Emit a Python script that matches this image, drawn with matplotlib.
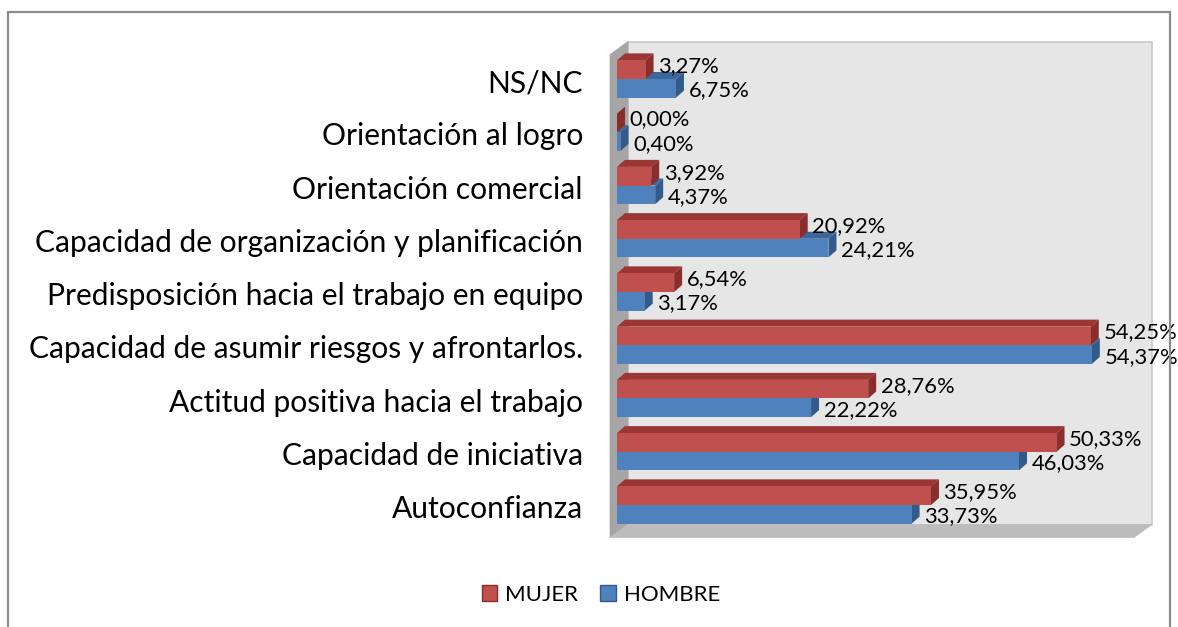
import matplotlib.pyplot as plt
from matplotlib.patches import Polygon, Rectangle, Patch
from matplotlib.transforms import offset_copy
import numpy as np

categorias = [
    "Autoconfianza",
    "Capacidad de iniciativa",
    "Actitud positiva hacia el trabajo",
    "Capacidad de asumir riesgos y afrontarlos.",
    "Predisposición hacia el trabajo en equipo",
    "Capacidad de organización y planificación",
    "Orientación comercial",
    "Orientación al logro",
    "NS/NC",
]
mujer = [35.95, 50.33, 28.76, 54.25, 6.54, 20.92, 3.92, 0.00, 3.27]
hombre = [33.73, 46.03, 22.22, 54.37, 3.17, 24.21, 4.37, 0.40, 6.75]

rojo = dict(front="#c0504d", top="#9a3633", side="#8a2e2b")
azul = dict(front="#4f81bd", top="#3b679c", side="#325a8a")

plt.rcParams['font.family'] = ['Lato', 'DejaVu Sans']

W, H = 1178, 627
fig = plt.figure(figsize=(W / 100, H / 100), dpi=100)

# front plane of the bars, in pixels
L, R, T, B = 617, 1141, 50, 533
ax = fig.add_axes([L / W, 1 - B / H, (R - L) / W, (B - T) / H])
ylo, yhi = -0.526, 8.545
xlo, xhi = 0, 60
ax.set_xlim(xlo, xhi)
ax.set_ylim(ylo, yhi)
ax.axis('off')

px_x = (R - L) / (xhi - xlo)     # pixels per percent
px_y = (B - T) / (yhi - ylo)     # pixels per category
bdx, bdy = 8 / px_x, 7 / px_y    # bar depth in data units

# walls: front edge shifted (-7, -4.5) px, depth (18, 13) px
fx0, fy0 = -7 / px_x, -4.5 / px_y
wx, wy = 18 / px_x, 13 / px_y
back = Polygon([(xlo + fx0 + wx, ylo + fy0 + wy), (xhi + fx0 + wx, ylo + fy0 + wy),
                (xhi + fx0 + wx, yhi + fy0 + wy), (xlo + fx0 + wx, yhi + fy0 + wy)],
               closed=True, facecolor="#e6e6e6", edgecolor="#c8c8c8", lw=1.2,
               clip_on=False, zorder=0)
left = Polygon([(xlo + fx0, ylo + fy0), (xlo + fx0 + wx, ylo + fy0 + wy),
                (xlo + fx0 + wx, yhi + fy0 + wy), (xlo + fx0, yhi + fy0)],
               closed=True, facecolor="#a6a6a6", edgecolor="#a6a6a6", lw=0.5,
               clip_on=False, zorder=0)
floor = Polygon([(xlo + fx0, ylo + fy0), (xhi + fx0, ylo + fy0),
                 (xhi + fx0 + wx, ylo + fy0 + wy), (xlo + fx0 + wx, ylo + fy0 + wy)],
                closed=True, facecolor="#bcbcbc", edgecolor="#bcbcbc", lw=0.5,
                clip_on=False, zorder=0)
for p in (back, left, floor):
    ax.add_patch(p)

h = 0.35
y = np.arange(len(categorias))


def barra3d(y0, v, c, z):
    ax.barh(y0, v, height=h, left=0, align='edge', color=c["front"],
            edgecolor='none', zorder=z + 0.2)
    top = [(0, y0 + h), (v, y0 + h), (v + bdx, y0 + h + bdy), (bdx, y0 + h + bdy)]
    side = [(v, y0), (v, y0 + h), (v + bdx, y0 + h + bdy), (v + bdx, y0 + bdy)]
    ax.add_patch(Polygon(top, closed=True, facecolor=c["top"], edgecolor='none',
                         zorder=z, clip_on=False))
    ax.add_patch(Polygon(side, closed=True, facecolor=c["side"], edgecolor='none',
                         zorder=z + 0.1, clip_on=False))


for i in range(len(categorias)):
    barra3d(y[i] - h, hombre[i], azul, 2 + (8 - i))
    barra3d(y[i], mujer[i], rojo, 20 + (8 - i))

# value labels
lab_off = offset_copy(ax.transData, fig=fig, x=9, y=2.5, units='points')
lab_off_b = offset_copy(ax.transData, fig=fig, x=9, y=-1.5, units='points')
for i in range(len(categorias)):
    ax.text(mujer[i], y[i] + h / 2, f"{mujer[i]:.2f}%".replace('.', ','),
            transform=lab_off, ha='left', va='center', fontsize=15.8,
            color='black', zorder=40, clip_on=False)
    ax.text(hombre[i], y[i] - h / 2, f"{hombre[i]:.2f}%".replace('.', ','),
            transform=lab_off_b, ha='left', va='center', fontsize=15.8,
            color='black', zorder=40, clip_on=False)

# category labels
cat_tr = offset_copy(ax.get_yaxis_transform(), fig=fig, x=-24.5, y=-3, units='points')
for i, c in enumerate(categorias):
    ax.text(0, y[i], c, transform=cat_tr, ha='right', va='center',
            fontsize=21.6, color='black')

# legend
handles = [Patch(facecolor=rojo["front"], edgecolor=rojo["side"], label="MUJER"),
           Patch(facecolor=azul["front"], edgecolor=azul["side"], label="HOMBRE")]
fig.legend(handles=handles, loc='center', bbox_to_anchor=(601 / W, 1 - 595 / H),
           ncol=2, frameon=False, fontsize=16, handlelength=0.7, handleheight=0.7,
           handletextpad=0.35, columnspacing=1.0)

# chart border
fig.add_artist(Rectangle((8 / W, -0.05), (1170 - 8) / W, (H - 12) / H + 0.05,
                         transform=fig.transFigure, fill=False,
                         edgecolor="#8c8c8c", lw=1.6))

fig.savefig("out.png", dpi=100)
